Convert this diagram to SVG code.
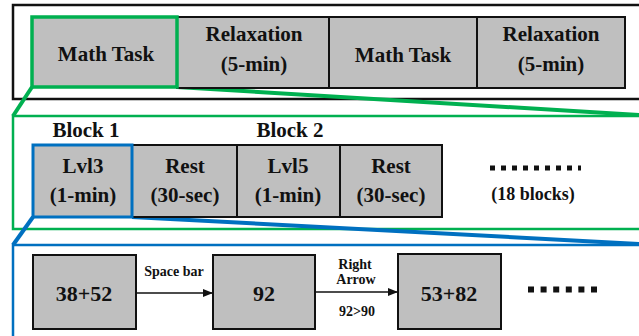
<svg xmlns="http://www.w3.org/2000/svg" width="639" height="336" viewBox="0 0 639 336">
<style>
text{font-family:"Liberation Serif","Times New Roman",serif;font-weight:bold;fill:#111;text-anchor:middle}
.box{fill:#bfbfbf;stroke:#111;stroke-width:2}
.t1{font-size:21px}
.t3{font-size:22px}
.sm{font-size:14px}
.green{stroke:#00b050;fill:none}
.blue{stroke:#0070c0;fill:none}
</style>
<defs>
<marker id="ah" markerWidth="10" markerHeight="8" refX="10" refY="4" orient="auto" markerUnits="userSpaceOnUse">
<path d="M0,0 L10,4 L0,8 Z" fill="#111"/>
</marker>
</defs>

<g id="frames">
<rect x="13" y="5" width="640" height="94" fill="none" stroke="#111" stroke-width="2.5"/>
<rect x="13" y="116" width="640" height="113" class="green" stroke-width="2.5"/>
<rect x="13" y="245" width="640" height="100" class="blue" stroke-width="2.5"/>
</g>

<g id="connectors">
<line x1="32" y1="87" x2="13" y2="116" class="green" stroke-width="4"/>
<line x1="177" y1="87" x2="640" y2="115" class="green" stroke-width="4"/>
<line x1="33" y1="217" x2="13" y2="245" class="blue" stroke-width="4"/>
<line x1="132" y1="217" x2="640" y2="244" class="blue" stroke-width="4"/>
<line x1="136" y1="293" x2="213" y2="293" stroke="#111" stroke-width="1.3" marker-end="url(#ah)"/>
<line x1="315" y1="292" x2="398" y2="292" stroke="#111" stroke-width="1.3" marker-end="url(#ah)"/>
</g>

<g id="relax1">
<rect x="177" y="17" width="152" height="71" class="box"/>
<text class="t1" x="254" y="41">Relaxation</text>
<text class="t1" x="254" y="71">(5-min)</text>
</g>
<g id="math2">
<rect x="329" y="17" width="148" height="71" class="box"/>
<text class="t1" x="403" y="62">Math Task</text>
</g>
<g id="relax2">
<rect x="477" y="17" width="148" height="71" class="box"/>
<text class="t1" x="551" y="41">Relaxation</text>
<text class="t1" x="551" y="71">(5-min)</text>
</g>
<g id="math1">
<rect x="32" y="17" width="145" height="70" class="box" style="stroke:#00b050;stroke-width:3.5"/>
<text class="t1" x="106" y="61">Math Task</text>
</g>

<g id="block-labels">
<text class="t1" x="86" y="137">Block 1</text>
<text class="t1" x="290" y="137">Block 2</text>
</g>

<g id="rest1">
<rect x="132" y="145" width="105" height="72" class="box"/>
<text class="t1" x="185" y="173">Rest</text>
<text class="t1" x="185" y="202">(30-sec)</text>
</g>
<g id="lvl5">
<rect x="237" y="145" width="103" height="72" class="box"/>
<text class="t1" x="288" y="173">Lvl5</text>
<text class="t1" x="288" y="202">(1-min)</text>
</g>
<g id="rest2">
<rect x="340" y="145" width="102" height="72" class="box"/>
<text class="t1" x="391" y="173">Rest</text>
<text class="t1" x="391" y="202">(30-sec)</text>
</g>
<g id="lvl3">
<rect x="33" y="145" width="99" height="72" class="box" style="stroke:#0070c0;stroke-width:3"/>
<text class="t1" x="83" y="173">Lvl3</text>
<text class="t1" x="83" y="202">(1-min)</text>
</g>

<g id="more-blocks">
<line x1="490" y1="168" x2="581" y2="168" stroke="#111" stroke-width="5" stroke-dasharray="5 6"/>
<text x="533" y="200" style="font-size:18px">(18 blocks)</text>
</g>

<g id="q1">
<rect x="33" y="255" width="103" height="74" class="box"/>
<text class="t3" x="84" y="301">38+52</text>
</g>
<g id="a1">
<rect x="213" y="255" width="102" height="74" class="box"/>
<text class="t3" x="264" y="301">92</text>
</g>
<g id="q2">
<rect x="398" y="254" width="103" height="75" class="box"/>
<text class="t3" x="449" y="301">53+82</text>
</g>

<g id="labels">
<text class="sm" x="174" y="276">Space bar</text>
<text class="sm" x="355" y="269">Right</text>
<text class="sm" x="356" y="284">Arrow</text>
<text class="sm" x="357" y="316">92&gt;90</text>
</g>

<g id="more-trials">
<line x1="528" y1="289.5" x2="597" y2="289.5" stroke="#111" stroke-width="6" stroke-dasharray="6 6.6"/>
</g>
</svg>
